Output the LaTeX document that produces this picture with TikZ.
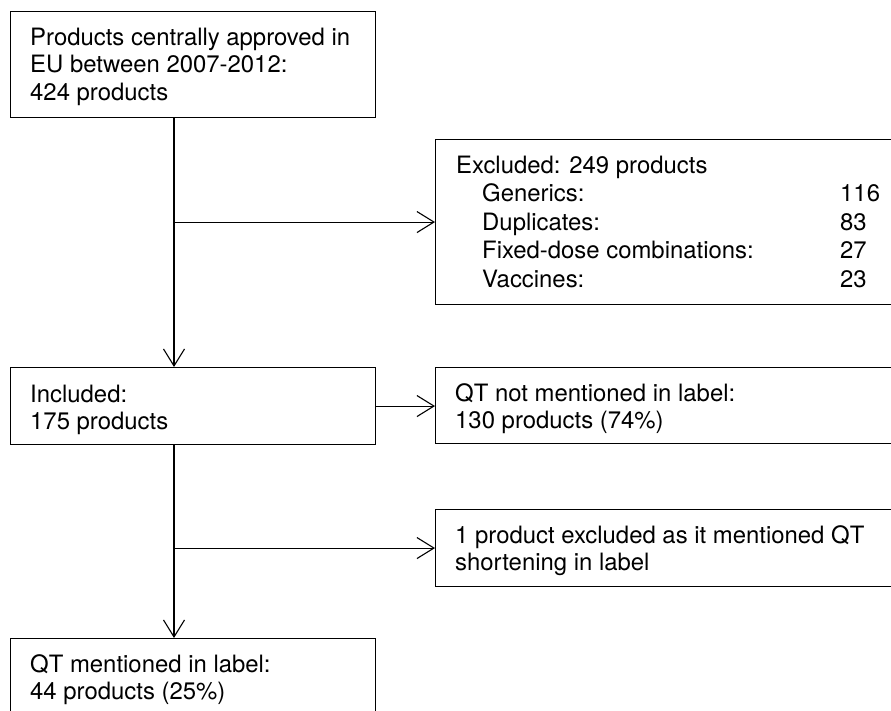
\documentclass[tikz,border=0pt]{standalone}
\usepackage{fontspec}
\setmainfont{TeX Gyre Heros}
\usetikzlibrary{arrows.meta}
\tikzset{
  flowbox/.style={draw=black, line width=1.1pt, rectangle, inner sep=0pt, anchor=north west},
  boxtext/.style={inner sep=0pt, anchor=base west, font=\fontsize{23.9}{27.5}\selectfont},
  flowarrow/.style={draw=black, line width=1.1pt, -{Straight Barb[length=17pt,width=21pt,line width=1.1pt]}},
}
\begin{document}
\begin{tikzpicture}[x=1pt,y=-1pt]
\useasboundingbox (0,0) rectangle (891,710);
\clip (0,0) rectangle (891,710);
% boxes
\node[flowbox, minimum width=365pt, minimum height=106pt] (top) at (10,11) {};
\node[flowbox, minimum width=480pt, minimum height=165pt] (excl) at (435,139) {};
\node[flowbox, minimum width=365pt, minimum height=77pt] (incl) at (10,367) {};
\node[flowbox, minimum width=480pt, minimum height=76pt] (qtn) at (435,367) {};
\node[flowbox, minimum width=480pt, minimum height=77pt] (one) at (435,509) {};
\node[flowbox, minimum width=365pt, minimum height=90pt] (qtm) at (10,638) {};
% texts
\node[boxtext] (ttop) at (30,45) {\begin{tabular}[t]{@{}l@{}}Products centrally approved in\\EU between 2007-2012:\\424 products\end{tabular}};
\node[boxtext, font=\fontsize{23.9}{28.5}\selectfont] (texcl) at (456,173) {\begin{tabular}[t]{@{}l@{}}Excluded: 249 products\\
\hspace{26pt}\makebox[358pt][l]{Generics:}116\\
\hspace{26pt}\makebox[358pt][l]{Duplicates:}83\\
\hspace{26pt}\makebox[358pt][l]{Fixed-dose combinations:}27\\
\hspace{26pt}\makebox[358pt][l]{Vaccines:}23\end{tabular}};
\node[boxtext] (tincl) at (30,402) {\begin{tabular}[t]{@{}l@{}}Included:\\175 products\end{tabular}};
\node[boxtext] (tqtn) at (455,401) {\begin{tabular}[t]{@{}l@{}}QT not mentioned in label:\\130 products (74\%)\end{tabular}};
\node[boxtext] (tone) at (455,543) {\begin{tabular}[t]{@{}l@{}}1 product excluded as it mentioned QT\\shortening in label\end{tabular}};
\node[boxtext] (tqtm) at (30,672) {\begin{tabular}[t]{@{}l@{}}QT mentioned in label:\\44 products (25\%)\end{tabular}};
% connectors
\coordinate (trunk) at (174,0);
\draw[flowarrow] (trunk |- top.south) -- (trunk |- incl.north);
\draw[flowarrow] (trunk |- excl.west) -- (excl.west);
\draw[flowarrow] (incl.east) -- (incl.east -| qtn.west);
\draw[flowarrow] (trunk |- incl.south) -- (trunk |- qtm.north);
\draw[flowarrow] (trunk |- one.west) -- (one.west);
\end{tikzpicture}
\end{document}
